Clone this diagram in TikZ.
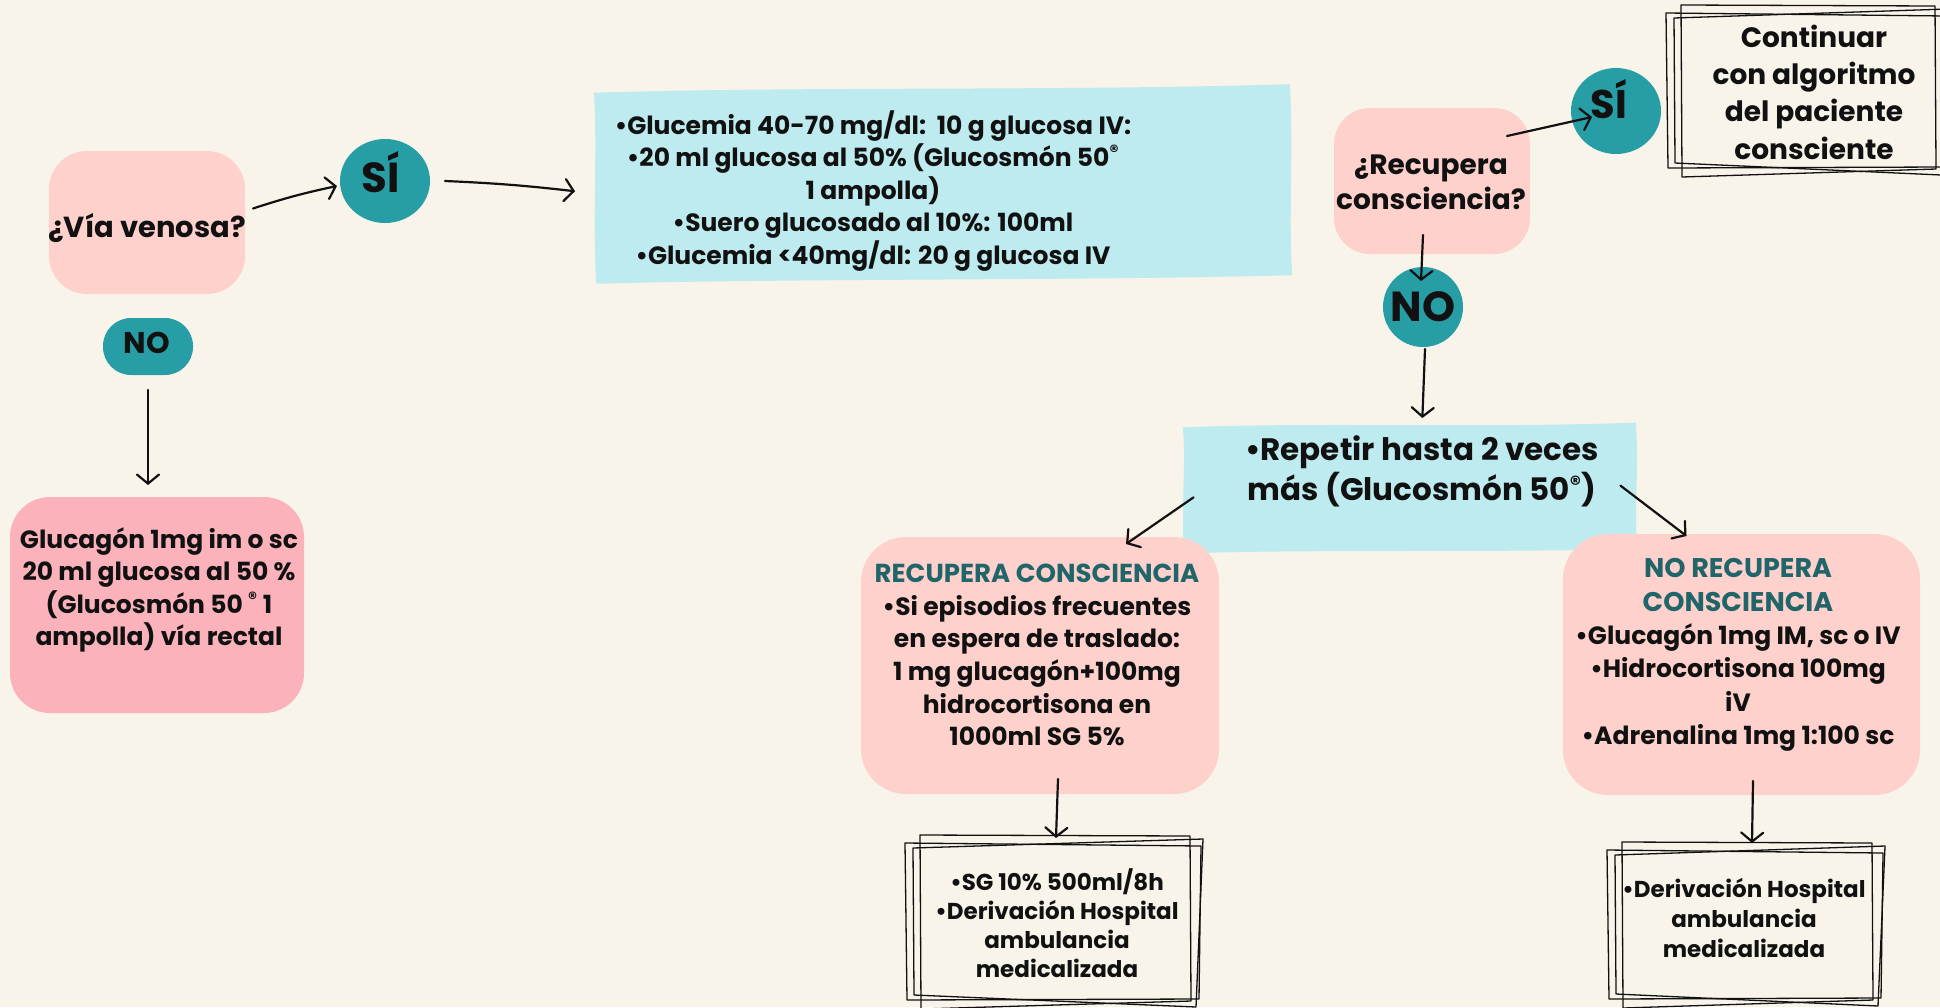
\documentclass[tikz,border=0pt]{standalone}
\usepackage{fontspec}
\setmainfont{Poppins}
\usetikzlibrary{arrows.meta,shapes.geometric,calc}
\definecolor{bgc}{HTML}{F8F4EA}
\definecolor{pinkL}{HTML}{FFD1CC}
\definecolor{pinkD}{HTML}{FCB2BB}
\definecolor{tealc}{HTML}{279EA6}
\definecolor{bluec}{HTML}{BDEBF0}
\definecolor{tealtxt}{HTML}{1F6569}
\definecolor{ink}{HTML}{111111}
\newcommand{\regm}{\textsuperscript{®}}
\newcommand{\skbox}[1]{%
  \draw[skline] ([shift={(9,-5)}]#1.north west) -- ([shift={(-3,-4)}]#1.north east) -- ([shift={(-2,-3)}]#1.south east) -- ([shift={(10,5)}]#1.south west) -- cycle;
  \draw[skline] ([shift={(-6,3)}]#1.north west) -- ([shift={(8,6)}]#1.north east) -- ([shift={(6,-5)}]#1.south east) -- ([shift={(-4,-4)}]#1.south west) -- cycle;
  \draw[skline] ([shift={(2,8)}]#1.north west) -- ([shift={(10,-1)}]#1.north east) -- ([shift={(3,3)}]#1.south east) -- ([shift={(3,-9)}]#1.south west) -- cycle;
}
\newcommand{\wavyfill}[1]{%
  \fill[bluec] (#1.north west)
   .. controls ($(#1.north west)!0.3!(#1.north east)+(0,-4)$) and ($(#1.north west)!0.65!(#1.north east)+(0,4)$) .. (#1.north east)
   .. controls ($(#1.north east)!0.35!(#1.south east)+(3,0)$) and ($(#1.north east)!0.7!(#1.south east)+(-3,0)$) .. (#1.south east)
   .. controls ($(#1.south east)!0.3!(#1.south west)+(0,3)$) and ($(#1.south east)!0.7!(#1.south west)+(0,-3)$) .. (#1.south west)
   .. controls ($(#1.south west)!0.35!(#1.north west)+(-3,0)$) and ($(#1.south west)!0.7!(#1.north west)+(3,0)$) .. cycle;
}
\begin{document}
\begin{tikzpicture}[x=1pt,y=-1pt,
  every node/.style={inner sep=0pt,outer sep=0pt},
  txt/.style 2 args={align=center,text=ink,font=\bfseries\fontsize{#1}{#2}\selectfont},
  pinkbox/.style={fill=pinkL},
  pinkdark/.style={fill=pinkD},
  bubble/.style={ellipse,fill=tealc},
  bluebox/.style={rectangle},
  skarea/.style={rectangle},
  skline/.style={draw=ink,line width=1.3pt,line join=round},
  arr/.style={draw=ink,line width=2.2pt,line cap=round,-{Straight Barb[length=9pt,width=22pt,line cap=round]}}]
\fill[bgc] (0,0) rectangle (1940,1007);
\useasboundingbox (0,0) rectangle (1940,1007);

% left column
\node[pinkbox,rounded corners=38,minimum width=196,minimum height=143] (via) at (147,222.5) {};
\node[txt={29}{33},anchor=base] (viat) at (147,237) {¿Vía venosa?};
\node[bubble,minimum width=90,minimum height=84] (si1) at (385,181) {};
\node[txt={42}{42},anchor=base] (si1t) at (381,192) {SÍ};
\node[fill=tealc,rounded corners=28,minimum width=90,minimum height=57] (no1) at (148,346.5) {};
\node[txt={30}{30},anchor=base] (no1t) at (147,353) {NO};
\node[pinkdark,rounded corners=40,minimum width=294,minimum height=216] (glu) at (157,605) {};
\node[txt={25}{32.3}] (glut) at (159,590) {Glucagón 1mg im o sc\\20 ml glucosa al 50 \%\\(Glucosmón 50 \regm\ 1\\ampolla) vía rectal};

% top blue box
\node[bluebox,minimum width=696,minimum height=191,rotate=0.7] (blue1) at (943,184) {};
\wavyfill{blue1}
\node[txt={25}{32.5}] (blue1t) at (873,191) {•Glucemia 40-70 mg/dl:\ \ 10 g glucosa IV:\\•20 ml glucosa al 50\% (Glucosmón 50\regm\\1 ampolla)\\•Suero glucosado al 10\%: 100ml\\•Glucemia <40mg/dl: 20 g glucosa IV};

% right top
\node[pinkbox,rounded corners=36,minimum width=196,minimum height=146] (rec) at (1432,181) {};
\node[txt={28}{35}] (rect) at (1431,182) {¿Recupera\\consciencia?};
\node[bubble,minimum width=90,minimum height=86] (si2) at (1616,111) {};
\node[txt={40}{40},anchor=base] (si2t) at (1609,118) {SÍ};
\node[skarea,minimum width=266,minimum height=162] (cont) at (1805,91) {};
\node[txt={28}{37.3}] (contt) at (1814,92) {Continuar\\con algoritmo\\del paciente\\consciente};
\node[bubble,minimum width=80,minimum height=80] (no2) at (1423,307) {};
\node[txt={42}{42},anchor=base] (no2t) at (1423,321) {NO};
\node[bluebox,minimum width=453,minimum height=126,rotate=0.6] (rep) at (1410,488) {};
\wavyfill{rep}
\node[txt={31}{40}] (rept) at (1422,471) {•Repetir hasta 2 veces\\más (Glucosmón 50\regm)};

% lower right
\node[pinkbox,rounded corners=45,minimum width=358,minimum height=257] (recc) at (1040,665.5) {};
\node[txt={25}{32.6}] (recct) at (1037,655) {\textcolor{tealtxt}{\fontsize{26}{32.6}\selectfont RECUPERA CONSCIENCIA}\\•Si episodios frecuentes\\en espera de traslado:\\1 mg glucagón+100mg\\hidrocortisona en\\1000ml SG 5\%};
\node[pinkbox,rounded corners=45,minimum width=357,minimum height=261] (norec) at (1741.5,664.5) {};
\node[txt={25}{33.4}] (norect) at (1738,655) {\textcolor{tealtxt}{\fontsize{27}{33.4}\selectfont NO RECUPERA}\\\textcolor{tealtxt}{\fontsize{27}{33.4}\selectfont CONSCIENCIA}\\•Glucagón 1mg IM, sc o IV\\•Hidrocortisona 100mg\\iV\\•Adrenalina 1mg 1:100 sc};
\node[skarea,minimum width=282,minimum height=164] (sk1) at (1052,922) {};
\node[txt={23}{29}] (sk1t) at (1057,923) {•SG 10\% 500ml/8h\\•Derivación Hospital\\ambulancia\\medicalizada};
\node[skarea,minimum width=262,minimum height=156] (sk2) at (1744,925) {};
\node[txt={23}{30}] (sk2t) at (1744,918) {•Derivación Hospital\\ambulancia\\medicalizada};

\skbox{cont}
\skbox{sk1}
\skbox{sk2}

% connectors
\draw[arr] ([shift={(8,-14)}]via.east) to[bend left=3] ([shift={(-3,5)}]si1.west);
\draw[arr] ([shift={(15,0)}]si1.east) to[bend left=2] ([shift={(-20,3)}]blue1.west);
\draw[arr] ([shift={(0,15)}]no1.south) -- ([shift={(-9,-12)}]glu.north);
\draw[arr] ([shift={(-23,28)}]rec.north east) -- ([shift={(21,6)}]si2.west);
\draw[arr] ([shift={(-9,-19)}]rec.south) -- ([shift={(-2,14)}]no2.north);
\draw[arr] ([shift={(2,2)}]no2.south) -- ([shift={(13,-7)}]rep.north);
\draw[arr] ([shift={(10,7)}]rep.west) -- ([shift={(86,7)}]recc.north);
\draw[arr] ([shift={(-16,0)}]rep.east) -- ([shift={(-55,2)}]norec.north);
\draw[arr] ([shift={(18,-15)}]recc.south) -- ([shift={(4,-2)}]sk1.north);
\draw[arr] ([shift={(11.5,-14)}]norec.south) -- ([shift={(8,-4)}]sk2.north);
\end{tikzpicture}
\end{document}
